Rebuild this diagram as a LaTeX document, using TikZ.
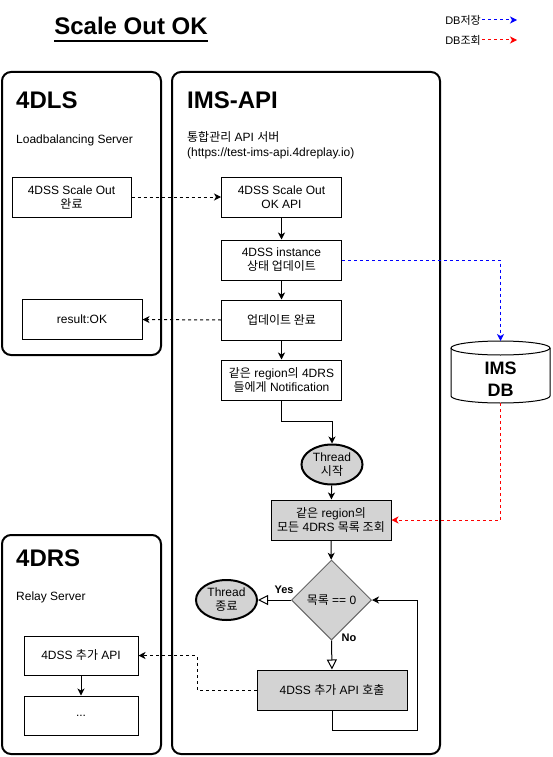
\documentclass[tikz,border=0pt]{standalone}
\usepackage{fontspec}
\setmainfont{Liberation Sans}
\newfontfamily\kr{Noto Sans CJK KR}
\usetikzlibrary{shapes.geometric,arrows.meta}

\definecolor{boxgray}{HTML}{D3D3D3}
\definecolor{diagray}{HTML}{666666}

\tikzset{
  body/.style={font=\fontsize{12}{14}\selectfont},
  paneltitle/.style={anchor=base west, inner sep=0pt, font=\fontsize{24}{28}\selectfont\bfseries},
  panelsub/.style={anchor=base west, inner sep=0pt, align=left, font=\fontsize{12}{15}\selectfont},
  box/.style={draw, line width=1pt, minimum width=120pt, minimum height=40pt,
              align=center, inner sep=2pt, body},
  gbox/.style={box, fill=boxgray},
  thread/.style={ellipse, draw, line width=2pt, fill=boxgray, minimum width=61pt,
                 minimum height=40pt, inner sep=0pt, align=center, body},
  decision/.style={diamond, draw=diagray, line width=1pt, fill=boxgray, aspect=1,
                   minimum width=80pt, minimum height=80pt, inner sep=0pt, body},
  flow/.style={-{Stealth[length=7pt,width=7pt,inset=2pt]}, line width=1pt},
  openflow/.style={-{Triangle[open,length=10pt,width=10pt]}, line width=1pt},
  link/.style={flow, dash pattern=on 3pt off 3pt},
  dbsave/.style={link, draw=blue, -{Stealth[length=7pt,width=7pt,inset=2pt,fill=blue]}},
  dbread/.style={link, draw=red, -{Stealth[length=7pt,width=7pt,inset=2pt,fill=red]}},
  tag/.style={inner sep=0pt, font=\fontsize{11}{13}\selectfont\bfseries},
  legendtxt/.style={anchor=east, inner sep=1pt, font=\fontsize{11}{13}\selectfont},
}

\begin{document}
\begin{tikzpicture}[x=1pt,y=-1pt]
\useasboundingbox (0,0) rectangle (552,757);

% title
\node[anchor=base, inner sep=0pt, font=\fontsize{24}{28}\selectfont\bfseries] (title) at (131,35) {Scale Out OK};
\draw[line width=1.8pt] ([yshift=-6pt]title.base west) -- ([yshift=-6pt]title.base east);

% legend
\node[legendtxt] (lgSave) at (482,20) {DB{\kr 저장}};
\coordinate (lgSaveEnd) at (517,20);
\draw[dbsave] (lgSave.east) -- (lgSaveEnd);
\node[legendtxt] (lgRead) at (482,40) {DB{\kr 조회}};
\coordinate (lgReadEnd) at (517,40);
\draw[dbread] (lgRead.east) -- (lgReadEnd);

% panels
\draw[line width=2pt, rounded corners=9pt] (2,72) rectangle (161,355);
\draw[line width=2pt, rounded corners=9pt] (172,72) rectangle (440,754);
\draw[line width=2pt, rounded corners=9pt] (2,535) rectangle (161,754);

\node[paneltitle] (lsTitle) at (16,109) {4DLS};
\node[panelsub] (lsSub) at (16,143) {Loadbalancing Server};
\node[paneltitle] (apiTitle) at (187,109) {IMS-API};
\node[panelsub] (apiSub) at (187,142) {{\kr 통합관리} API {\kr 서버}};
\node[panelsub] (apiUrl) at (187,157) {(https://test-ims-api.4dreplay.io)};
\node[paneltitle] (rsTitle) at (16,566) {4DRS};
\node[panelsub] (rsSub) at (16,600) {Relay Server};

% 4DLS
\node[box, minimum width=119pt] (lsDone) at (71.5,197) {4DSS Scale Out\\{\kr 완료}};
\node[box] (resOk) at (82,319.5) {result:OK};

% IMS-API
\node[box] (okApi) at (281.5,197) {4DSS Scale Out\\OK API};
\node[box] (instUpd) at (281.5,260) {4DSS instance\\{\kr 상태 업데이트}};
\node[box] (updDone) at (281.5,320) {{\kr 업데이트 완료}};
\node[box] (notify) at (281.5,380) {{\kr 같은} region{\kr 의} 4DRS\\{\kr 들에게} Notification};
\node[thread] (tStart) at (332,464.5) {Thread\\{\kr 시작}};
\node[gbox] (listQ) at (331,520) {{\kr 같은} region{\kr 의}\\{\kr 모든} 4DRS {\kr 목록 조회}};
\node[decision] (empty) at (331.5,600) {{\kr 목록} == 0};
\node[thread] (tEnd) at (226.5,600) {Thread\\{\kr 종료}};
\node[gbox, minimum width=150pt] (callAdd) at (332,690) {4DSS {\kr 추가} API {\kr 호출}};

% IMS DB
\fill[white] (451,348) -- (451,396) arc[start angle=180,end angle=0,x radius=49.5,y radius=7] -- (550,348) -- cycle;
\draw[line width=1pt] (451,348) -- (451,396) arc[start angle=180,end angle=0,x radius=49.5,y radius=7] -- (550,348);
\draw[line width=1pt, fill=white] (500.5,348) ellipse[x radius=49.5, y radius=7];
\node[align=center, inner sep=0pt, font=\fontsize{18}{22}\selectfont\bfseries] (imsdb) at (500.5,379) {IMS\\DB};
\coordinate (dbTop) at (500.5,341);
\coordinate (dbBot) at (500.5,403);

% 4DRS
\node[box, minimum width=114pt, minimum height=39pt] (addApi) at (81,655.5) {4DSS {\kr 추가} API};
\node[box, minimum width=114pt, minimum height=39pt] (etc) at (81,715.5) {...};

% connectors
\draw[link] (lsDone.east) -- (okApi.west);
\draw[flow] (okApi) -- (instUpd);
\draw[flow] (instUpd) -- (updDone);
\draw[flow] (updDone) -- (notify);
\draw[link] (updDone.west) -- (resOk.east);
\draw[dbsave] (instUpd.east) -| (dbTop);
\draw[dbread] (dbBot) |- (listQ.east);
\draw[flow] (notify.south) -- ++(0,21) -| (tStart.north);
\draw[flow] (tStart) -- (listQ);
\draw[flow] (listQ) -- (empty);
\draw[openflow] (empty.west) -- (tEnd.east);
\node[tag] (yesTag) at (284,590) {Yes};
\draw[openflow] (empty.south) -- (callAdd.north);
\node[tag] (noTag) at (349,638) {No};
\coordinate (loopCorner) at (417,730);
\draw[flow] (callAdd.south) |- (loopCorner) |- (empty.east);
\coordinate (callBend) at (197,655.5);
\draw[link] (callAdd.west) -| (callBend) -- (addApi.east);
\draw[flow] (addApi) -- (etc);

\end{tikzpicture}
\end{document}
